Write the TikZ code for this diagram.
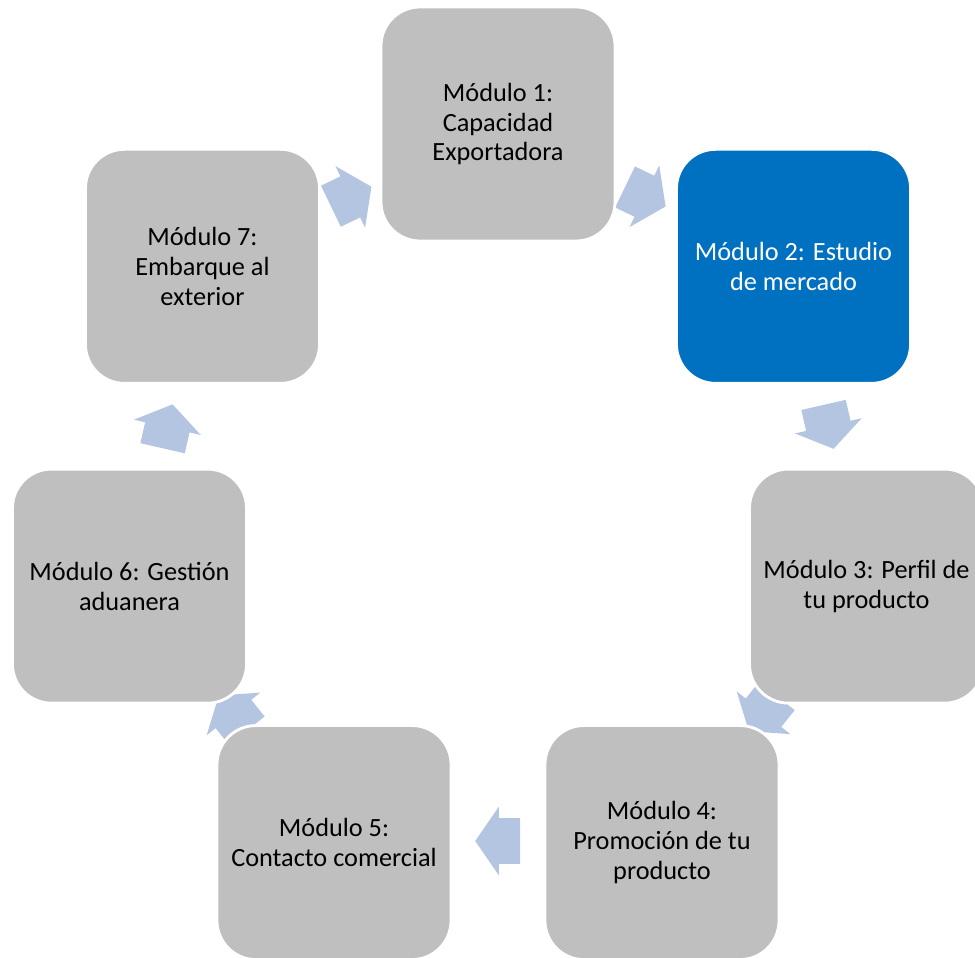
\documentclass[tikz,border=0pt]{standalone}
\usepackage{fontspec}
\setmainfont{Carlito}
\usetikzlibrary{shapes.arrows}

\definecolor{cajagris}{HTML}{BFBFBF}
\definecolor{cajaazul}{HTML}{0070C0}
\definecolor{flechaazul}{HTML}{B4C5E2}

\tikzset{
  modulo/.style={draw=white, line width=2pt, fill=cajagris, rounded corners=0.975cm,
    minimum width=5.85cm, minimum height=5.85cm, inner sep=0pt, align=center,
    font=\fontsize{18.7}{21.3}\selectfont},
  flecha/.style={single arrow, fill=flechaazul, draw=none, inner sep=0pt,
    inner ysep=0.5625cm, single arrow head extend=0.2875cm,
    single arrow tip angle=111, minimum height=1.125cm, anchor=tail}
}

\begin{document}
\begin{tikzpicture}
  \useasboundingbox (-12.45,-11.375) rectangle (11.925,12.55);

  % flechas del ciclo (debajo de las cajas)
  \foreach \i in {1,...,7} {
    \pgfmathsetmacro{\ang}{(2*\i-1)*180/7}
    \node (flecha\i) [flecha, rotate=-\ang] at ([shift={(180-\ang:0.5625)}]90-\ang:8.475) {};
  }

  % modulos
  \node (mod1) [modulo] at (90:9.45) {Módulo 1:\\Capacidad\\Exportadora};
  \node (mod2) [modulo, fill=cajaazul, text=white] at (90-360/7:9.45) {Módulo 2: Estudio\\de mercado};
  \node (mod3) [modulo] at (90-720/7:9.45) {Módulo 3: Perfil de\\tu producto};
  \node (mod4) [modulo] at (90-1080/7:9.45) {Módulo 4:\\Promoción de tu\\producto};
  \node (mod5) [modulo] at (90-1440/7:9.45) {Módulo 5:\\Contacto comercial};
  \node (mod6) [modulo] at (90-1800/7:9.45) {Módulo 6: Gestión\\aduanera};
  \node (mod7) [modulo] at (90-2160/7:9.45) {Módulo 7:\\Embarque al\\exterior};
\end{tikzpicture}
\end{document}
